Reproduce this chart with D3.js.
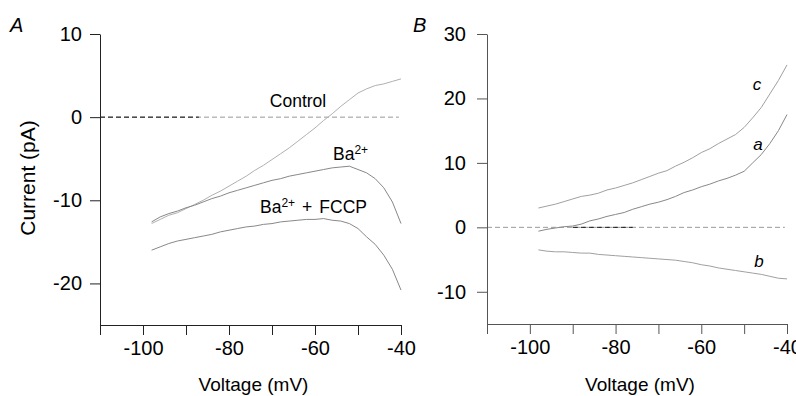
<!DOCTYPE html>
<html lang="en">
<head>
<meta charset="UTF-8">
<title>I-V curves</title>
<script src="https://d3js.org/d3.v7.min.js"></script>
<style>
  body { margin: 0; background: #fff; }
  svg { display: block; font-family: "Liberation Sans", Arial, sans-serif; }
</style>
</head>
<body>
<div id="chart"></div>
<script>
// voltage steps shared by all traces (mV)
const voltage = [-98, -96, -94, -92, -90, -88, -86, -84, -82, -80, -78, -76, -74, -72, -70,
                 -68, -66, -64, -62, -60, -58, -56, -54, -52, -50, -48, -46, -44, -42, -40];

// panel A currents (pA)
const controlA = [-12.8, -12.3, -11.8, -11.5, -11.0, -10.5, -10.0, -9.4, -8.9, -8.3, -7.7, -7.1, -6.4, -5.8, -5.1,
                  -4.4, -3.7, -2.9, -2.1, -1.3, -0.4, 0.4, 1.3, 2.1, 2.9, 3.4, 3.8, 4.0, 4.3, 4.6];
const bariumA = [-12.6, -12.0, -11.6, -11.3, -10.9, -10.6, -10.2, -9.8, -9.5, -9.1, -8.8, -8.5, -8.2, -7.9, -7.6,
                 -7.4, -7.1, -6.9, -6.7, -6.5, -6.3, -6.1, -6.0, -5.9, -6.3, -6.7, -7.4, -8.5, -10.2, -12.8];
const fccpA = [-16.0, -15.6, -15.2, -14.9, -14.7, -14.5, -14.3, -14.1, -13.8, -13.6, -13.4, -13.2, -13.1, -12.9, -12.8,
               -12.6, -12.5, -12.4, -12.3, -12.3, -12.2, -12.4, -12.5, -12.8, -13.4, -14.4, -15.3, -16.6, -18.3, -20.8];

// panel B currents (pA)
const traceC = [3.0, 3.3, 3.6, 4.0, 4.4, 4.8, 5.0, 5.3, 5.8, 6.1, 6.5, 6.9, 7.4, 7.9, 8.4,
                8.8, 9.5, 10.1, 10.8, 11.6, 12.2, 13.0, 13.7, 14.4, 15.5, 17.0, 18.6, 20.7, 22.8, 25.2];
const traceA = [-0.6, -0.3, -0.1, 0.1, 0.2, 0.5, 1.0, 1.3, 1.7, 2.0, 2.3, 2.8, 3.2, 3.6, 3.9,
                4.3, 4.8, 5.4, 5.8, 6.3, 6.7, 7.2, 7.6, 8.1, 8.7, 10.0, 11.3, 13.0, 15.0, 17.5];
const traceB = [-3.5, -3.7, -3.8, -3.8, -3.9, -4.0, -4.0, -4.2, -4.3, -4.4, -4.5, -4.6, -4.7, -4.8, -4.9,
                -5.0, -5.1, -5.3, -5.5, -5.8, -6.0, -6.3, -6.5, -6.7, -6.9, -7.1, -7.3, -7.6, -7.9, -8.0];

// axis ticks
const xTicks = [-110, -100, -90, -80, -70, -60, -50, -40];
const xLabels = [-100, -80, -60, -40];
const yTicksA = [-20, -10, 0, 10];
const yTicksB = [-10, 0, 10, 20, 30];

const W = 796, H = 396;
const svg = d3.select("#chart").append("svg").attr("width", W).attr("height", H);

function panel(opt) {
    const x = d3.scaleLinear().domain([-110, -40]).range(opt.xRange);
    const y = d3.scaleLinear().domain(opt.yDomain).range(opt.yRange);
    const g = svg.append("g");

    // zero line, dashed
    g.append("line")
        .attr("x1", x(-110)).attr("x2", x(-40.5))
        .attr("y1", y(0)).attr("y2", y(0))
        .attr("stroke", "#999").attr("stroke-width", 1)
        .attr("stroke-dasharray", "5,3");
    g.append("line")
        .attr("x1", x(opt.dark[0])).attr("x2", x(opt.dark[1]))
        .attr("y1", y(0)).attr("y2", y(0))
        .attr("stroke", "#111").attr("stroke-width", 1)
        .attr("stroke-dasharray", "5,3");

    const line = d3.line().x((d, i) => x(voltage[i])).y(d => y(d));
    opt.traces.forEach(t => {
        g.append("path").datum(t.values)
            .attr("fill", "none")
            .attr("stroke", t.color)
            .attr("stroke-width", 1)
            .attr("d", line);
    });

    const yAxis = g.append("g")
        .attr("transform", `translate(${opt.xRange[0]},0)`)
        .call(d3.axisLeft(y).tickValues(opt.yTicks).tickSize(10).tickSizeOuter(0)
            .tickPadding(opt.yPad).tickFormat(d => String(d)));
    const xAxis = g.append("g")
        .attr("transform", `translate(0,${opt.yRange[0]})`)
        .call(d3.axisBottom(x).tickValues(xTicks).tickSize(10).tickSizeOuter(0)
            .tickPadding(6).tickFormat(d => xLabels.includes(d) ? String(d) : ""));

    [yAxis, xAxis].forEach(a => {
        a.attr("font-family", null).attr("font-size", null);
        a.selectAll("text").attr("font-size", 20).attr("fill", "#000");
        a.select(".domain").attr("stroke", opt.axisColor);
        a.selectAll(".tick line").attr("stroke", opt.axisColor);
    });

    // panel letter
    g.append("text")
        .attr("x", opt.letterX).attr("y", 32)
        .attr("font-size", 20).attr("font-style", "italic")
        .text(opt.letter);

    // x title
    g.append("text")
        .attr("x", (opt.xRange[0] + opt.xRange[1]) / 2 + 3).attr("y", 391)
        .attr("text-anchor", "middle").attr("font-size", 19)
        .text("Voltage (mV)");

    return { x, y, g };
}

const A = panel({
    xRange: [100, 401], yDomain: [-25, 10], yRange: [325, 34], yTicks: yTicksA, yPad: 8,
    letter: "A", letterX: 10, axisColor: "#222", dark: [-110, -87],
    traces: [
        { values: controlA, color: "#b0b0b0" },
        { values: bariumA, color: "#888" },
        { values: fccpA, color: "#888" }
    ]
});

const B = panel({
    xRange: [487, 787], yDomain: [-15, 30], yRange: [324, 34], yTicks: yTicksB, yPad: 11,
    letter: "B", letterX: 413, axisColor: "#555", dark: [-90, -76],
    traces: [
        { values: traceC, color: "#a0a0a0" },
        { values: traceA, color: "#888" },
        { values: traceB, color: "#a0a0a0" }
    ]
});

// y title, panel A
svg.append("text")
    .attr("transform", "translate(35,178) rotate(-90)")
    .attr("text-anchor", "middle").attr("font-size", 21)
    .text("Current (pA)");

// trace labels, panel A
const labA = A.g.append("g").attr("font-size", 17.5);
labA.append("text").attr("x", 298).attr("y", 107).attr("text-anchor", "middle").text("Control");
const ba = labA.append("text").attr("x", 333).attr("y", 160);
ba.append("tspan").text("Ba");
ba.append("tspan").attr("font-size", 12).attr("dy", -6).text("2+");
const bf = labA.append("text").attr("x", 260).attr("y", 213).attr("xml:space", "preserve");
bf.append("tspan").text("Ba");
bf.append("tspan").attr("font-size", 12).attr("dy", -6).text("2+");
bf.append("tspan").attr("dy", 6).attr("dx", 7).text("+");
bf.append("tspan").attr("dx", 7).text("FCCP");

// trace labels, panel B
const labB = B.g.append("g").attr("font-size", 17).attr("font-style", "italic").attr("text-anchor", "middle");
labB.append("text").attr("x", 757).attr("y", 90).text("c");
labB.append("text").attr("x", 758).attr("y", 150).text("a");
labB.append("text").attr("x", 759).attr("y", 267).text("b");
</script>
</body>
</html>
